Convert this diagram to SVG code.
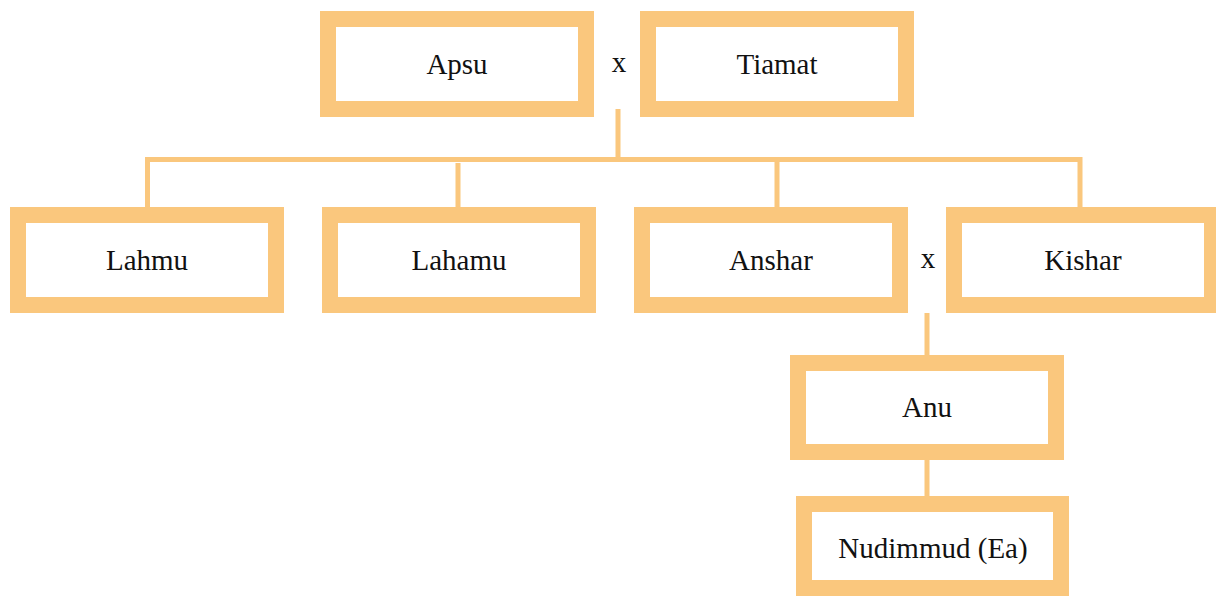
<svg xmlns="http://www.w3.org/2000/svg" width="1216" height="596" viewBox="0 0 1216 596">
<style>
.box{fill:#ffffff;stroke:#fac77d;stroke-width:16}
.lbl{font-family:"Liberation Serif","DejaVu Serif",serif;font-size:29px;fill:#111;text-anchor:middle}
.ln{stroke:#fac77d;stroke-width:5;fill:none}
</style>
<rect width="1216" height="596" fill="#ffffff"/>
<g id="connectors">
<path class="ln" d="M618 109V159.5M145 159.5H1082.5M147.5 159.5V207M458 163V207M777 159.5V207M1080 159.5V207"/>
<path class="ln" d="M927 313V355M927 460V496"/>
</g>
<g id="apsu"><rect class="box" x="328" y="19" width="258" height="90"/><text class="lbl" x="457" y="74">Apsu</text></g>
<text class="lbl" x="619" y="72">x</text>
<g id="tiamat"><rect class="box" x="648" y="19" width="258" height="90"/><text class="lbl" x="777" y="74">Tiamat</text></g>
<g id="lahmu"><rect class="box" x="18" y="215" width="258" height="90"/><text class="lbl" x="147" y="270">Lahmu</text></g>
<g id="lahamu"><rect class="box" x="330" y="215" width="258" height="90"/><text class="lbl" x="459" y="270">Lahamu</text></g>
<g id="anshar"><rect class="box" x="642" y="215" width="258" height="90"/><text class="lbl" x="771" y="270">Anshar</text></g>
<text class="lbl" x="928" y="268">x</text>
<g id="kishar"><rect class="box" x="954" y="215" width="258" height="90"/><text class="lbl" x="1083" y="270">Kishar</text></g>
<g id="anu"><rect class="box" x="798" y="363" width="258" height="89"/><text class="lbl" x="927" y="417">Anu</text></g>
<g id="nudimmud"><rect class="box" x="804" y="504" width="257" height="84"/><text class="lbl" x="933" y="558">Nudimmud (Ea)</text></g>
</svg>
